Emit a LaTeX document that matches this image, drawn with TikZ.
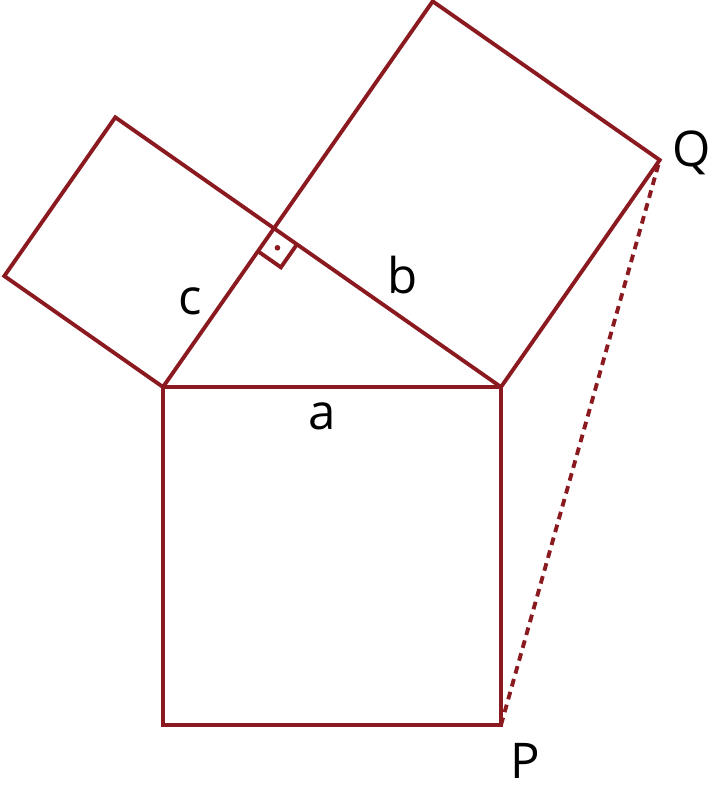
\documentclass[tikz,border=0pt]{standalone}
\usepackage{fontspec}
\setmainfont{Open Sans}
\usetikzlibrary{calc}
\definecolor{edgered}{RGB}{139,26,32}

\begin{document}
\begin{tikzpicture}[
    side/.style={edgered, line width=1.1pt},
    lbl/.style={font=\fontsize{14}{16}\selectfont, inner sep=0pt}
]
    \useasboundingbox (-1.63, -4.00) rectangle (5.47, 3.87);

    % Right triangle, hypotenuse AB
    \coordinate (A) at (0, 0);
    \coordinate (B) at (3.38, 0);
    \coordinate (C) at (1.11, 1.587);

    % Square on a
    \coordinate (P) at (3.38, -3.38);
    \coordinate (D) at (0, -3.38);
    \draw[side] (A) -- (B) -- (P) -- (D) -- cycle;

    % Square on c
    \coordinate (E) at ($(A)!1!90:(C)$);
    \coordinate (F) at ($(C)!1!-90:(A)$);
    \draw[side] (A) -- (C) -- (F) -- (E) -- cycle;

    % Square on b
    \coordinate (G) at ($(C)!1!90:(B)$);
    \coordinate (Q) at ($(B)!1!-90:(C)$);
    \draw[side] (C) -- (B) -- (Q) -- (G) -- cycle;

    % Right angle mark at C
    \coordinate (R1) at ($(C)!0.28cm!(A)$);
    \coordinate (R2) at ($(C)!0.28cm!(B)$);
    \coordinate (R3) at ($(R1)+(R2)-(C)$);
    \draw[side] (R1) -- (R3) -- (R2);
    \fill[edgered] ($(C)!0.5!(R3)$) circle (0.8pt);

    % Dotted line P--Q
    \draw[side, dash pattern=on 2.2pt off 1.6pt] (P) -- (Q);

    \node[lbl] (la) at (1.59, -0.29) {a};
    \node[lbl] (lb) at (2.40, 1.12) {b};
    \node[lbl] (lc) at (0.27, 0.86) {c};
    \node[lbl] (lq) at (5.29, 2.34) {Q};
    \node[lbl] (lp) at (3.62, -3.74) {P};
\end{tikzpicture}
\end{document}
